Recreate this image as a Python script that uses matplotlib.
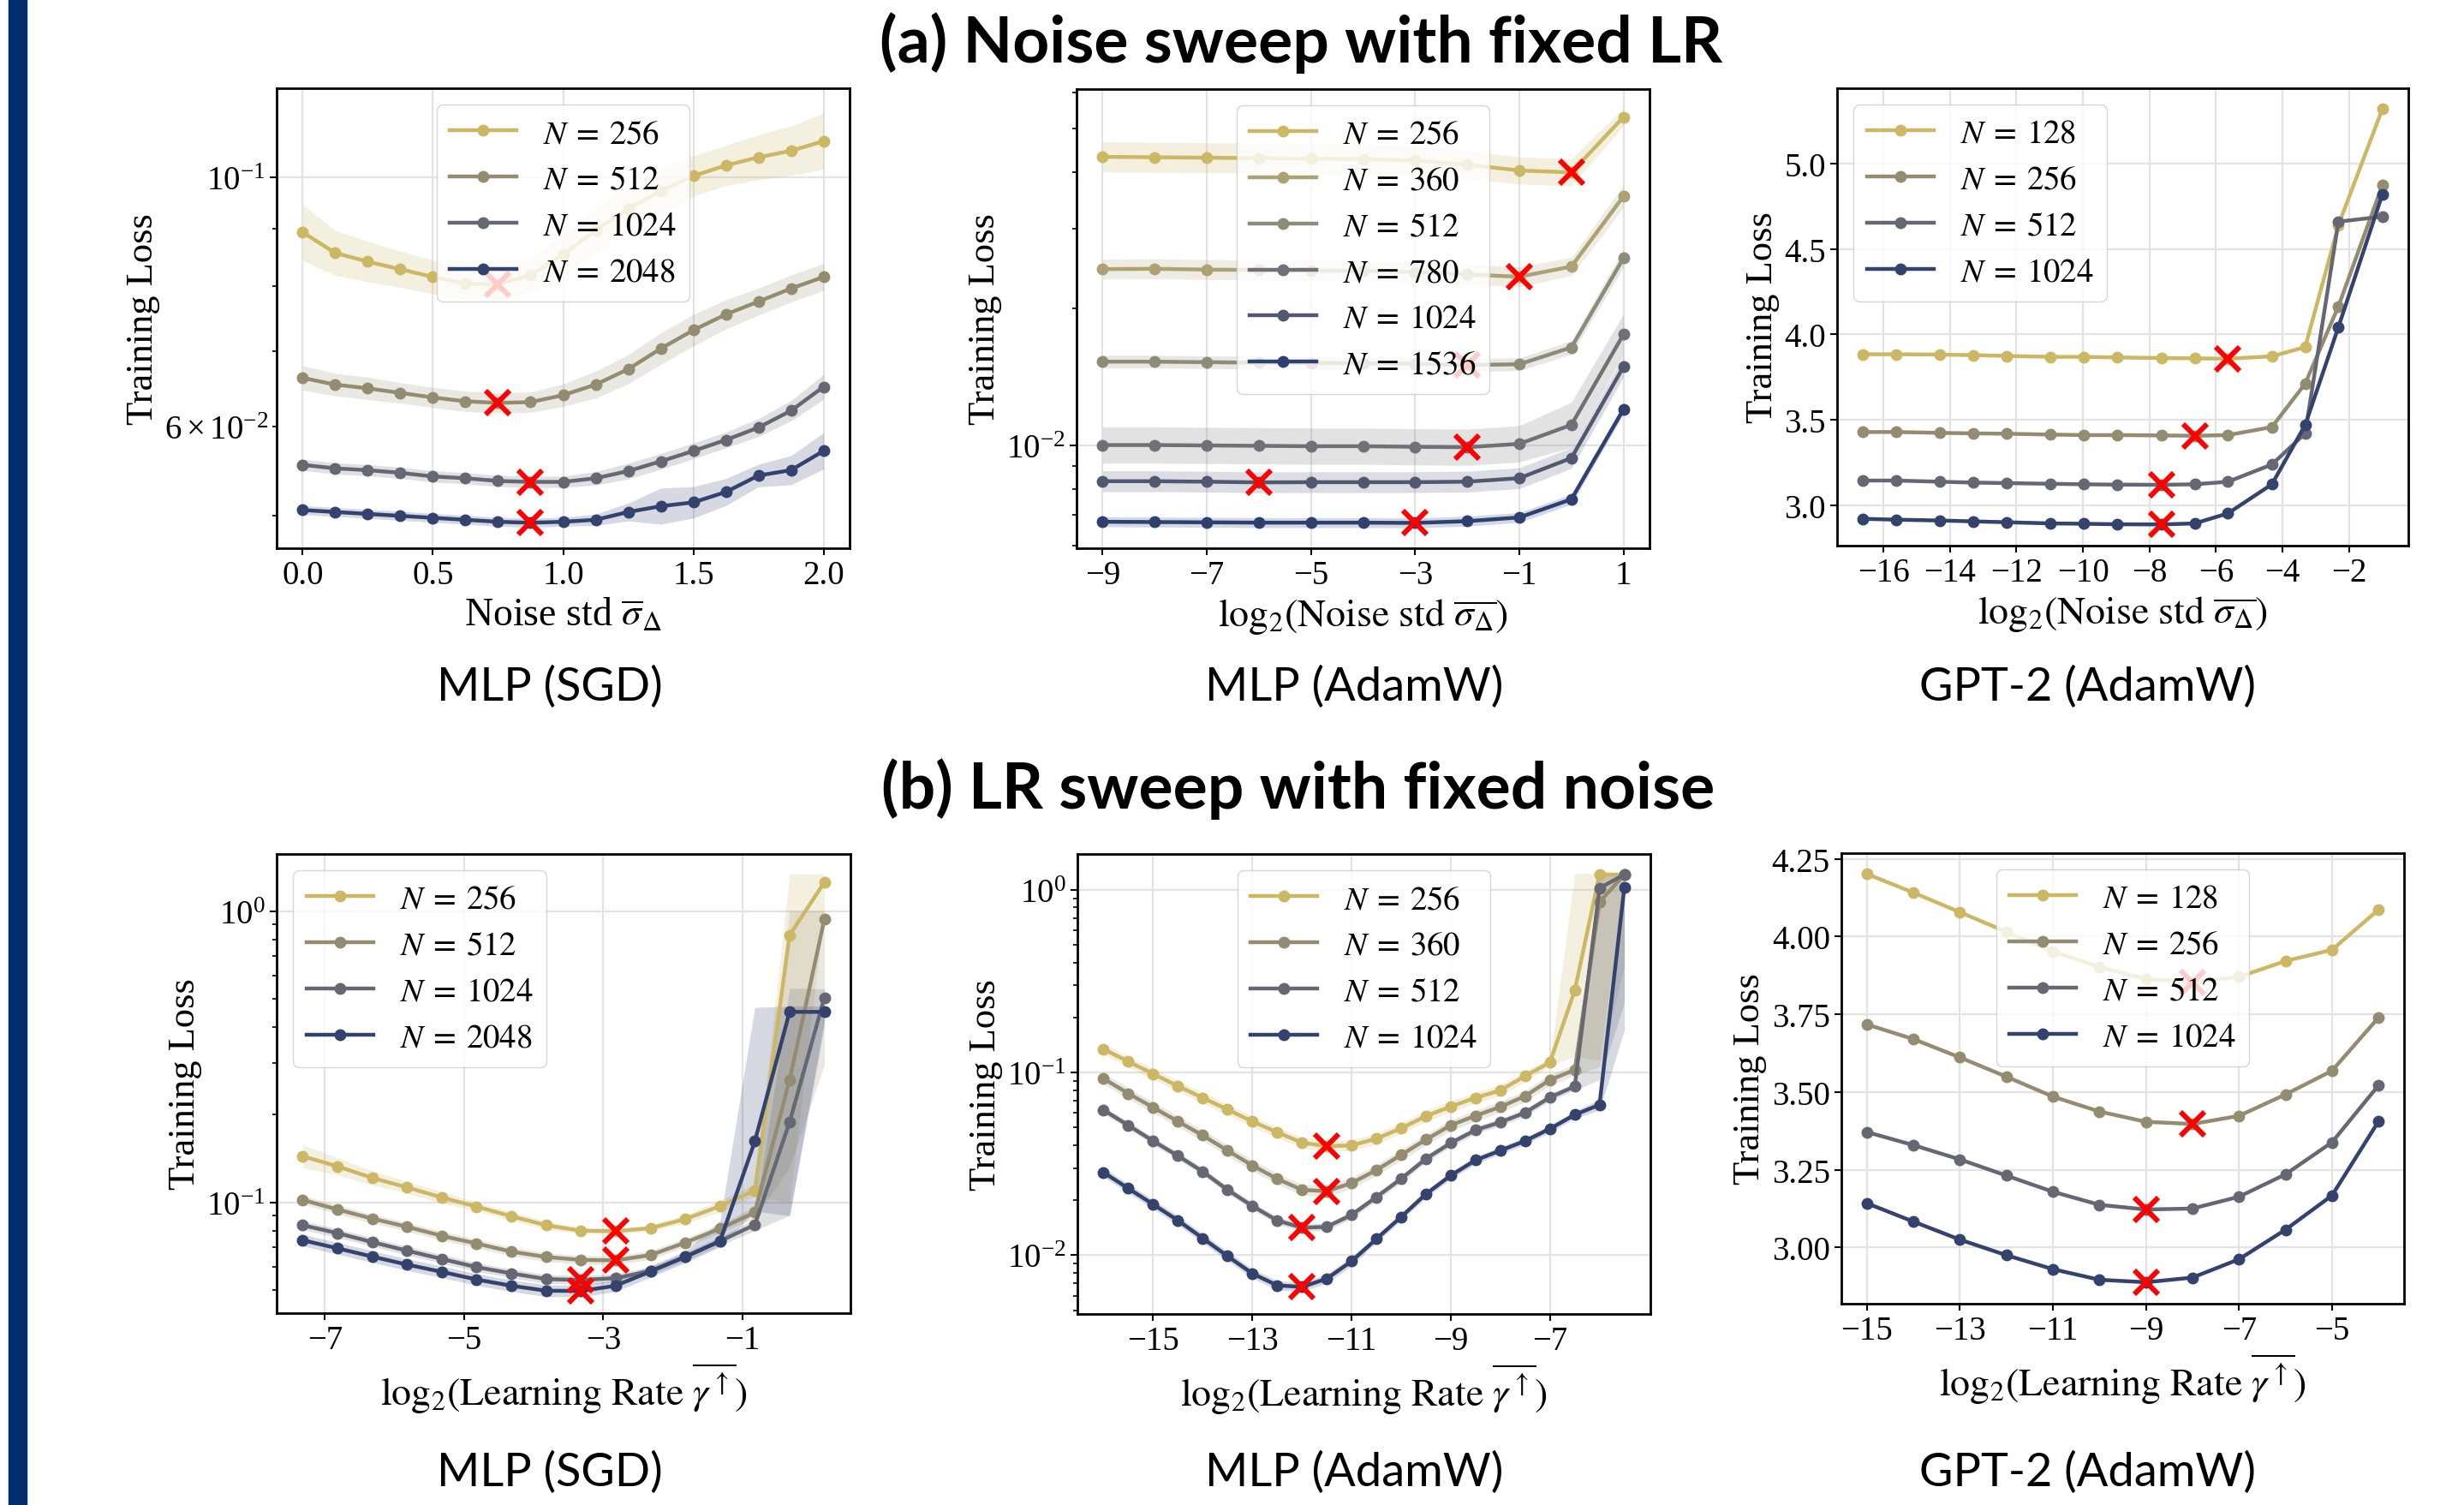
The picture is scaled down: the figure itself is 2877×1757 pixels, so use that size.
import matplotlib
matplotlib.use('Agg')
import matplotlib.pyplot as plt
from matplotlib.patches import Rectangle
import numpy as np

plt.rcParams['font.family'] = ['Liberation Serif', 'DejaVu Serif']
plt.rcParams['mathtext.fontset'] = 'stix'
plt.rcParams['xtick.labelsize'] = 28
plt.rcParams['ytick.labelsize'] = 28
plt.rcParams['xtick.major.size'] = 6
plt.rcParams['ytick.major.size'] = 6
plt.rcParams['xtick.major.width'] = 1.5
plt.rcParams['ytick.major.width'] = 1.5
plt.rcParams['ytick.minor.size'] = 3.5
plt.rcParams['ytick.minor.width'] = 1.2
plt.rcParams['axes.linewidth'] = 2.0

# colours
c4 = ['#ccb864', '#948c70', '#656872', '#34426e']
c6 = ['#ccb864', '#aca274', '#8f8b79', '#707076', '#525870', '#2e4070']

# ---------- (a) noise sweep, MLP (SGD)
a1_x = [0.0, 0.125, 0.25, 0.375, 0.5, 0.625, 0.75, 0.875, 1.0, 1.125, 1.25, 1.375, 1.5, 1.625, 1.75, 1.875, 2.0]
a1_labels = ['256', '512', '1024', '2048']
a1_y = [
    [0.0893, 0.0856, 0.0841, 0.0828, 0.0815, 0.0804, 0.0803, 0.0818, 0.0853, 0.0897, 0.0937, 0.0972, 0.1002, 0.1024, 0.1041, 0.1055, 0.1076],
    [0.0663, 0.0654, 0.0649, 0.0643, 0.0637, 0.0632, 0.0630, 0.0631, 0.0640, 0.0654, 0.0675, 0.0704, 0.0731, 0.0755, 0.0775, 0.0796, 0.0815],
    [0.0555, 0.0551, 0.0549, 0.0546, 0.0542, 0.0540, 0.0537, 0.0536, 0.0536, 0.0540, 0.0548, 0.0559, 0.0571, 0.0584, 0.0599, 0.0620, 0.0651],
    [0.0506, 0.0504, 0.0502, 0.0500, 0.0498, 0.0496, 0.0494, 0.0493, 0.0494, 0.0496, 0.0504, 0.0510, 0.0514, 0.0525, 0.0543, 0.0549, 0.0571],
]
a1_band = [
    [0.025, 0.02, 0.018, 0.016, 0.015, 0.014, 0.014, 0.015, 0.018, 0.02, 0.02, 0.02, 0.018, 0.018, 0.02, 0.022, 0.025],
    [0.011, 0.01, 0.01, 0.009, 0.009, 0.009, 0.009, 0.009, 0.01, 0.012, 0.013, 0.014, 0.014, 0.013, 0.012, 0.012, 0.012],
    [0.005, 0.005, 0.005, 0.005, 0.005, 0.005, 0.005, 0.005, 0.005, 0.006, 0.007, 0.007, 0.007, 0.007, 0.008, 0.009, 0.011],
    [0.004, 0.004, 0.004, 0.004, 0.004, 0.004, 0.004, 0.004, 0.004, 0.005, 0.008, 0.016, 0.014, 0.012, 0.01, 0.013, 0.016],
]
a1_best = [6, 6, 7, 7]

# ---------- (a) noise sweep, MLP (AdamW)
a2_x = [-9, -8, -7, -6, -5, -4, -3, -2, -1, 0, 1]
a2_labels = ['256', '360', '512', '780', '1024', '1536']
a2_y = [
    [0.0433, 0.0432, 0.0431, 0.0430, 0.0429, 0.0428, 0.0425, 0.0416, 0.0404, 0.0400, 0.0530],
    [0.02446, 0.0245, 0.0244, 0.02435, 0.0243, 0.02425, 0.0241, 0.0238, 0.02353, 0.02478, 0.03542],
    [0.01528, 0.01528, 0.01524, 0.0152, 0.01518, 0.01515, 0.01512, 0.01502, 0.01508, 0.01643, 0.02586],
    [0.0100, 0.0100, 0.00998, 0.00996, 0.00994, 0.00994, 0.00991, 0.00989, 0.01006, 0.01108, 0.01755],
    [0.00832, 0.00832, 0.0083, 0.00827, 0.00828, 0.00828, 0.00828, 0.0083, 0.00845, 0.00936, 0.01489],
    [0.00677, 0.00676, 0.00675, 0.00674, 0.00674, 0.00674, 0.00673, 0.00679, 0.00692, 0.00759, 0.01199],
]
a2_band = [
    [0.033, 0.033, 0.033, 0.033, 0.033, 0.033, 0.032, 0.031, 0.03, 0.03, 0.02],
    [0.022, 0.022, 0.022, 0.022, 0.022, 0.022, 0.022, 0.022, 0.022, 0.02, 0.025],
    [0.014, 0.014, 0.014, 0.014, 0.014, 0.014, 0.014, 0.014, 0.014, 0.015, 0.02],
    [0.04, 0.04, 0.04, 0.04, 0.04, 0.04, 0.04, 0.04, 0.04, 0.05, 0.045],
    [0.023, 0.023, 0.023, 0.023, 0.023, 0.023, 0.023, 0.023, 0.023, 0.023, 0.023],
    [0.011, 0.011, 0.011, 0.011, 0.011, 0.011, 0.011, 0.011, 0.011, 0.011, 0.011],
]
a2_best = [9, 8, 7, 7, 3, 6]

# ---------- (a) noise sweep, GPT-2 (AdamW)
a3_x = [-16.61, -15.61, -14.29, -13.29, -12.29, -10.97, -9.97, -8.97, -7.64, -6.64, -5.64, -4.32, -3.32, -2.32, -1.0]
a3_labels = ['128', '256', '512', '1024']
a3_y = [
    [3.884, 3.884, 3.882, 3.879, 3.874, 3.869, 3.869, 3.865, 3.862, 3.860, 3.858, 3.872, 3.926, 4.640, 5.320],
    [3.429, 3.429, 3.424, 3.421, 3.419, 3.414, 3.411, 3.411, 3.409, 3.407, 3.411, 3.458, 3.712, 4.165, 4.874],
    [3.145, 3.145, 3.138, 3.133, 3.130, 3.126, 3.123, 3.121, 3.120, 3.123, 3.138, 3.239, 3.421, 4.660, 4.690],
    [2.921, 2.916, 2.911, 2.906, 2.901, 2.894, 2.892, 2.889, 2.888, 2.894, 2.953, 3.123, 3.470, 4.044, 4.820],
]
a3_best = [10, 9, 8, 8]

# ---------- (b) LR sweep, MLP (SGD)
b1_x = [-7.32, -6.82, -6.32, -5.82, -5.32, -4.82, -4.32, -3.82, -3.32, -2.82, -2.32, -1.82, -1.32, -0.82, -0.32, 0.18]
b1_labels = ['256', '512', '1024', '2048']
b1_y = [
    [0.1439, 0.1329, 0.1213, 0.1125, 0.1039, 0.0966, 0.0896, 0.0834, 0.0799, 0.0796, 0.0815, 0.0876, 0.0970, 0.1100, 0.827, 1.2556],
    [0.1019, 0.0945, 0.0879, 0.0824, 0.0767, 0.0722, 0.0677, 0.0649, 0.0634, 0.0632, 0.0659, 0.0727, 0.0812, 0.0923, 0.263, 0.938],
    [0.0834, 0.0784, 0.0730, 0.0682, 0.0639, 0.0599, 0.0570, 0.0545, 0.0541, 0.0549, 0.0581, 0.0651, 0.0736, 0.0837, 0.1884, 0.505],
    [0.0741, 0.0695, 0.0651, 0.0611, 0.0577, 0.0543, 0.0517, 0.0497, 0.0496, 0.0517, 0.0579, 0.0649, 0.0736, 0.1619, 0.4508, 0.4508],
]
b1_lo = [
    [0.04, 0.03, 0.025, 0.02, 0.02, 0.015, 0.015, 0.015, 0.01, 0.01, 0.01, 0.015, 0.02, 0.02, 0.92, 0.1],
    [0.015, 0.015, 0.015, 0.015, 0.015, 0.015, 0.015, 0.015, 0.015, 0.015, 0.015, 0.015, 0.015, 0.02, 0.3, 0.5],
    [0.015, 0.015, 0.015, 0.015, 0.015, 0.015, 0.015, 0.015, 0.015, 0.015, 0.015, 0.015, 0.015, 0.02, 0.32, 0.1],
    [0.02, 0.02, 0.02, 0.02, 0.02, 0.02, 0.02, 0.02, 0.02, 0.02, 0.02, 0.02, 0.02, 0.24, 0.7, 0.03],
]
b1_hi = [
    [0.04, 0.03, 0.025, 0.02, 0.02, 0.015, 0.015, 0.015, 0.01, 0.01, 0.01, 0.015, 0.02, 0.02, 0.21, 0.03],
    [0.015, 0.015, 0.015, 0.015, 0.015, 0.015, 0.015, 0.015, 0.015, 0.015, 0.015, 0.015, 0.015, 0.02, 0.58, 0.03],
    [0.015, 0.015, 0.015, 0.015, 0.015, 0.015, 0.015, 0.015, 0.015, 0.015, 0.015, 0.015, 0.015, 0.02, 0.46, 0.03],
    [0.02, 0.02, 0.02, 0.02, 0.02, 0.02, 0.02, 0.02, 0.02, 0.02, 0.02, 0.02, 0.07, 0.46, 0.02, 0.02],
]
b1_best = [9, 9, 8, 8]

# ---------- (b) LR sweep, MLP (AdamW)
b2_x = [-16, -15.5, -15, -14.5, -14, -13.5, -13, -12.5, -12, -11.5, -11, -10.5, -10, -9.5, -9, -8.5, -8, -7.5, -7, -6.5, -6, -5.5]
b2_labels = ['256', '360', '512', '1024']
b2_y = [
    [0.1345, 0.1147, 0.0984, 0.0843, 0.0727, 0.0627, 0.0540, 0.0471, 0.0413, 0.0395, 0.0399, 0.0434, 0.0495, 0.0577, 0.0651, 0.0727, 0.0798, 0.0957, 0.1135, 0.281, 1.212, 1.212],
    [0.0926, 0.0768, 0.0644, 0.0540, 0.0453, 0.0374, 0.0310, 0.0262, 0.0228, 0.0224, 0.0248, 0.0292, 0.0354, 0.0429, 0.0514, 0.0580, 0.0648, 0.0743, 0.0911, 0.1033, 0.857, 1.212],
    [0.0623, 0.0514, 0.0422, 0.0350, 0.0287, 0.0228, 0.0186, 0.0155, 0.01414, 0.01429, 0.0166, 0.0208, 0.0262, 0.0337, 0.0411, 0.0484, 0.0534, 0.0603, 0.0731, 0.0839, 1.022, 1.212],
    [0.0284, 0.0232, 0.0190, 0.0155, 0.01239, 0.00989, 0.00794, 0.00684, 0.00670, 0.00743, 0.00926, 0.01226, 0.0162, 0.0216, 0.0273, 0.0331, 0.0374, 0.0422, 0.0492, 0.0587, 0.0666, 1.028],
]
b2_lo = [
    [0.03, 0.03, 0.03, 0.03, 0.03, 0.03, 0.03, 0.03, 0.03, 0.03, 0.03, 0.03, 0.03, 0.03, 0.03, 0.03, 0.03, 0.03, 0.02, 0.36, 1.02, 0.02],
    [0.03, 0.03, 0.03, 0.03, 0.03, 0.03, 0.03, 0.03, 0.03, 0.03, 0.03, 0.03, 0.03, 0.03, 0.03, 0.03, 0.03, 0.03, 0.03, 0.03, 0.9, 0.5],
    [0.02, 0.02, 0.02, 0.02, 0.02, 0.02, 0.02, 0.02, 0.02, 0.02, 0.02, 0.02, 0.02, 0.02, 0.02, 0.02, 0.02, 0.02, 0.02, 0.02, 1.05, 0.7],
    [0.025, 0.025, 0.025, 0.025, 0.025, 0.025, 0.025, 0.025, 0.025, 0.025, 0.025, 0.02, 0.02, 0.02, 0.02, 0.02, 0.02, 0.02, 0.02, 0.02, 0.03, 0.78],
]
b2_hi = [
    [0.03, 0.03, 0.03, 0.03, 0.03, 0.03, 0.03, 0.03, 0.03, 0.03, 0.03, 0.03, 0.03, 0.03, 0.03, 0.03, 0.03, 0.03, 0.02, 0.64, 0.01, 0.01],
    [0.03, 0.03, 0.03, 0.03, 0.03, 0.03, 0.03, 0.03, 0.03, 0.03, 0.03, 0.03, 0.03, 0.03, 0.03, 0.03, 0.03, 0.03, 0.03, 0.03, 0.15, 0.01],
    [0.02, 0.02, 0.02, 0.02, 0.02, 0.02, 0.02, 0.02, 0.02, 0.02, 0.02, 0.02, 0.02, 0.02, 0.02, 0.02, 0.02, 0.02, 0.02, 0.02, 0.08, 0.01],
    [0.025, 0.025, 0.025, 0.025, 0.025, 0.025, 0.025, 0.025, 0.025, 0.025, 0.025, 0.02, 0.02, 0.02, 0.02, 0.02, 0.02, 0.02, 0.02, 0.02, 0.03, 0.02],
]
b2_best = [9, 9, 8, 8]

# ---------- (b) LR sweep, GPT-2 (AdamW)
b3_x = [-15, -14, -13, -12, -11, -10, -9, -8, -7, -6, -5, -4]
b3_labels = ['128', '256', '512', '1024']
b3_y = [
    [4.201, 4.141, 4.078, 4.015, 3.952, 3.902, 3.863, 3.853, 3.870, 3.921, 3.957, 4.086],
    [3.717, 3.670, 3.611, 3.549, 3.485, 3.437, 3.404, 3.397, 3.423, 3.492, 3.568, 3.739],
    [3.371, 3.329, 3.283, 3.231, 3.179, 3.137, 3.122, 3.125, 3.163, 3.235, 3.338, 3.521],
    [3.142, 3.083, 3.025, 2.975, 2.930, 2.896, 2.888, 2.903, 2.962, 3.057, 3.167, 3.405],
]
b3_best = [7, 7, 6, 6]

W, H = 2877, 1758
fig = plt.figure(figsize=(W / 100, H / 100), dpi=100)


def box(l, r, t, b):
    return [l / W, 1 - b / H, (r - l) / W, (b - t) / H]


def panel(pos, x, ys, colors, labels, best, lo=None, hi=None, log=True,
          ylim=None, xticks=None, xlabel='', loc='upper center'):
    ax = fig.add_axes(box(*pos))
    for i, y in enumerate(ys):
        y = np.array(y)
        if lo is not None:
            ax.fill_between(x, y / 10 ** np.array(lo[i]), y * 10 ** np.array(hi[i]),
                            color=colors[i], alpha=0.2, lw=0, zorder=1)
        ax.plot(x, y, '-o', color=colors[i], lw=3.2, ms=9, zorder=2,
                label=r'$N\:=\:%s$' % labels[i])
    for i, y in enumerate(ys):
        ax.plot(x[best[i]], y[best[i]], 'x', color='red', ms=20, mew=4.3, zorder=3)
    if log:
        ax.set_yscale('log')
    ax.set_ylim(ylim)
    ax.set_xticks(xticks)
    ax.grid(True, which='major', color='#e3e3e3', lw=1.6)
    ax.set_axisbelow(True)
    ax.set_ylabel('Training Loss', fontsize=32)
    ax.set_xlabel(xlabel, fontsize=33)
    leg = ax.legend(loc=loc, fontsize=28, framealpha=0.8, edgecolor='#cccccc',
                    labelspacing=0.43)
    leg.set_zorder(5)
    return ax


noise_lbl = r'$\mathrm{log}_2(\mathrm{Noise\ std}\ \overline{\sigma_\Delta})$'
lr_lbl = r'$\mathrm{log}_2(\mathrm{Learning\ Rate}\ \overline{\gamma^{\uparrow}})$'

panel((323, 992, 104, 641), a1_x, a1_y, c4, a1_labels, a1_best, a1_band, a1_band,
      ylim=(0.0468, 0.1199), xticks=[0.0, 0.5, 1.0, 1.5, 2.0],
      xlabel=r'Noise std $\overline{\sigma}_\Delta$')
panel((1257, 1926, 105, 641), a2_x, a2_y, c6, a2_labels, a2_best, a2_band, a2_band,
      ylim=(0.005918, 0.0611), xticks=[-9, -7, -5, -3, -1, 1], xlabel=noise_lbl)
panel((2145, 2812, 104, 638), a3_x, a3_y, c4, a3_labels, a3_best, log=False,
      ylim=(2.764, 5.441), xticks=[-16, -14, -12, -10, -8, -6, -4, -2],
      xlabel=noise_lbl, loc='upper left')
panel((323, 993, 998, 1534), b1_x, b1_y, c4, b1_labels, b1_best, b1_lo, b1_hi,
      ylim=(0.04163, 1.571), xticks=[-7, -5, -3, -1], xlabel=lr_lbl, loc='upper left')
panel((1258, 1927, 998, 1535), b2_x, b2_y, c4, b2_labels, b2_best, b2_lo, b2_hi,
      ylim=(0.004766, 1.57), xticks=[-15, -13, -11, -9, -7], xlabel=lr_lbl)
panel((2150, 2807, 997, 1523), b3_x, b3_y, c4, b3_labels, b3_best, log=False,
      ylim=(2.819, 4.268), xticks=[-15, -13, -11, -9, -7, -5], xlabel=lr_lbl)

# section titles and subplot captions
fig.text(1519 / W, 1 - 50 / H, '(a) Noise sweep with fixed LR', ha='center', va='center',
         family='Lato', weight='bold', fontsize=54)
fig.text(1516 / W, 1 - 921 / H, '(b) LR sweep with fixed noise', ha='center', va='center',
         family='Lato', weight='bold', fontsize=54)
for yy in [802, 1719]:
    for xx, name in zip([642, 1581, 2437], ['MLP (SGD)', 'MLP (AdamW)', 'GPT-2 (AdamW)']):
        fig.text(xx / W, 1 - yy / H, name, ha='center', va='center', family='Lato', fontsize=39)

# blue bar on the left edge
fig.patches.append(Rectangle((10 / W, 0), 21 / W, 1, transform=fig.transFigure,
                             color='#002d6e', zorder=0))

fig.savefig('out.png', dpi=100)
